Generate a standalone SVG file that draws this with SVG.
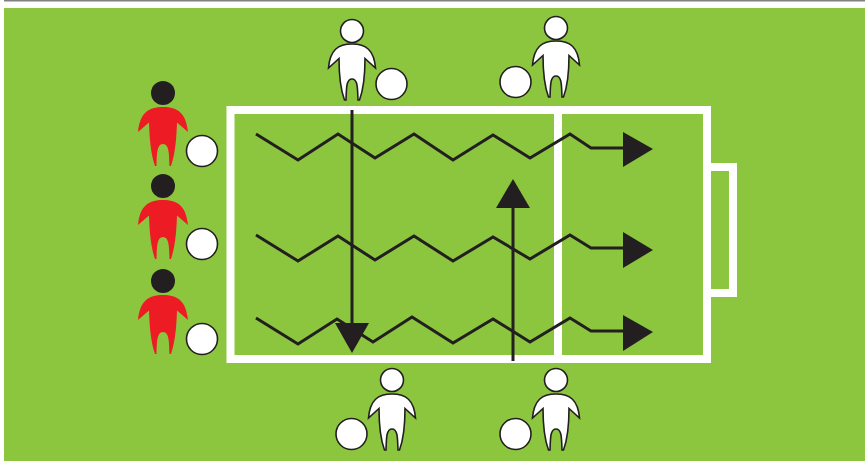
<svg xmlns="http://www.w3.org/2000/svg" width="865" height="461" viewBox="0 0 865 461">
<style>
.line{fill:none;stroke:#231f20;stroke-width:3;stroke-linejoin:miter}
.head{fill:#231f20;stroke:none}
.tri{fill:#231f20}
.ball{fill:#fff;stroke:#231f20;stroke-width:1.6}
.white{fill:#fff;stroke:#231f20;stroke-width:1.6}
.red{fill:#ed1c24}
.field{fill:none;stroke:#fff;stroke-width:8}
</style>
<defs>
<path id="body" d="M0,0C15,0 23,6 25,25L14,15.500C13.500,30 12.500,46 8,59L6.500,59C6,48 6.500,37 0,37C-6.500,37 -6,48 -6.500,59L-8,59C-12.500,46 -13.500,30 -14,15.500L-25,25C-23,6 -15,0 0,0Z"/>
<path id="body-small" d="M0,0C14,0 22,6 23.500,24L13,14.500C13,28 12,44 7.500,56L6,56C5.500,45 6,35 0,35C-6,35 -5.500,45 -6,56L-7.500,56C-12,44 -13,28 -13,14.500L-23.500,24C-22,6 -14,0 0,0Z"/>
</defs>
<rect x="0" y="0" width="865" height="461" fill="#fff"/>
<rect x="4" y="0" width="861" height="1.500" fill="#808080"/>
<rect x="4" y="8" width="861" height="453" fill="#8cc63f"/>
<g id="field">
<rect class="field" x="230.500" y="110" width="476.500" height="249"/>
<path class="field" d="M558,110V359"/>
<path class="field" d="M707,167H733V293H707"/>
</g>
<g id="connectors">
<path class="line" d="M256,134L298,160L338,134L375,158L414,134L453,160L493,135L530,158L570,134L591,148H625"/>
<path class="tri" d="M623,132L653,149L623,167Z"/>
<path class="line" d="M256,235L298,261L338,236L375,260L414,236L453,261L493,237L530,259L570,235L591,248H625"/>
<path class="tri" d="M623,232L653,250L623,268Z"/>
<path class="line" d="M256,318L298,344L337,319L373,342L412,317L453,343L493,319L530,342L570,318L591,331H625"/>
<path class="tri" d="M623,315L653,332L623,351Z"/>
<path class="line" d="M352,110V325"/>
<path class="tri" d="M335,323H369L352,353Z"/>
<path class="line" d="M513,361V206"/>
<path class="tri" d="M496,208H530L513,179Z"/>
</g>
<g id="red-player-1"><circle class="head" cx="163" cy="93" r="12"/><use href="#body" class="red" x="163" y="107"/><circle class="ball" cx="202" cy="151" r="15.500"/></g>
<g id="red-player-2"><circle class="head" cx="163" cy="186" r="12"/><use href="#body" class="red" x="163" y="200"/><circle class="ball" cx="202" cy="244" r="15.500"/></g>
<g id="red-player-3"><circle class="head" cx="163" cy="281" r="12"/><use href="#body" class="red" x="163" y="295"/><circle class="ball" cx="202" cy="339" r="15.500"/></g>
<g id="white-player-1"><circle class="white" cx="352" cy="31" r="11.500"/><use href="#body-small" class="white" x="352" y="44"/><circle class="ball" cx="391.500" cy="84" r="15.500"/></g>
<g id="white-player-2"><circle class="white" cx="556" cy="28" r="11.500"/><use href="#body-small" class="white" x="556" y="41"/><circle class="ball" cx="515.500" cy="82" r="15.500"/></g>
<g id="white-player-3"><circle class="white" cx="392" cy="380" r="11.500"/><use href="#body-small" class="white" x="392" y="394"/><circle class="ball" cx="351.500" cy="434" r="15.500"/></g>
<g id="white-player-4"><circle class="white" cx="556" cy="380" r="11.500"/><use href="#body-small" class="white" x="556" y="394"/><circle class="ball" cx="515.500" cy="434" r="15.500"/></g>
</svg>
